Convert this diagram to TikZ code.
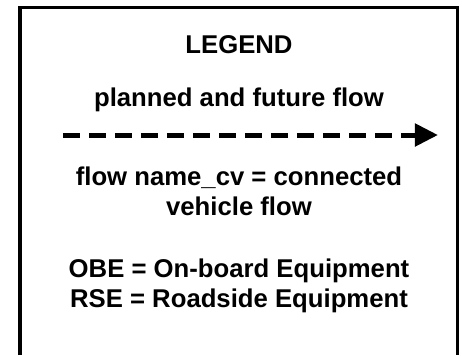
\documentclass[tikz,border=0pt]{standalone}
\usepackage{fontspec}
\setmainfont{Liberation Sans}
\usetikzlibrary{arrows.meta,positioning}

\begin{document}
\begin{tikzpicture}[x=0.5pt,y=-0.5pt,
  legendtext/.style={font=\bfseries\fontsize{12.85}{15}\selectfont, inner sep=0pt, anchor=base},
  futureflow/.style={line width=2.5pt, dash pattern=on 8.5pt off 4.5pt,
    -{Triangle[length=11.5pt,width=11pt]}}]
  \useasboundingbox (0,0) rectangle (462,355);
  % legend frame, open at the bottom
  \draw[line width=1.5pt] (20,355) -- (20,7) -- (458,7) -- (458,355);
  \node [legendtext] (title) at (239,53) {LEGEND};
  \node [legendtext, below=26.5pt of title.base, anchor=base] (planned) {planned and future flow};
  \coordinate (flowstart) at (63,135);
  \coordinate (flowend) at (438,135);
  \draw [futureflow] (flowstart) -- (flowend);
  \node [legendtext, below=39.5pt of planned.base, anchor=base] (cv) {flow name\_cv = connected};
  \node [legendtext, below=15pt of cv.base, anchor=base] (cvb) {vehicle flow};
  \node [legendtext, below=31pt of cvb.base, anchor=base] (obe) {OBE = On-board Equipment};
  \node [legendtext, below=15pt of obe.base, anchor=base] (rse) {RSE = Roadside Equipment};
\end{tikzpicture}
\end{document}
